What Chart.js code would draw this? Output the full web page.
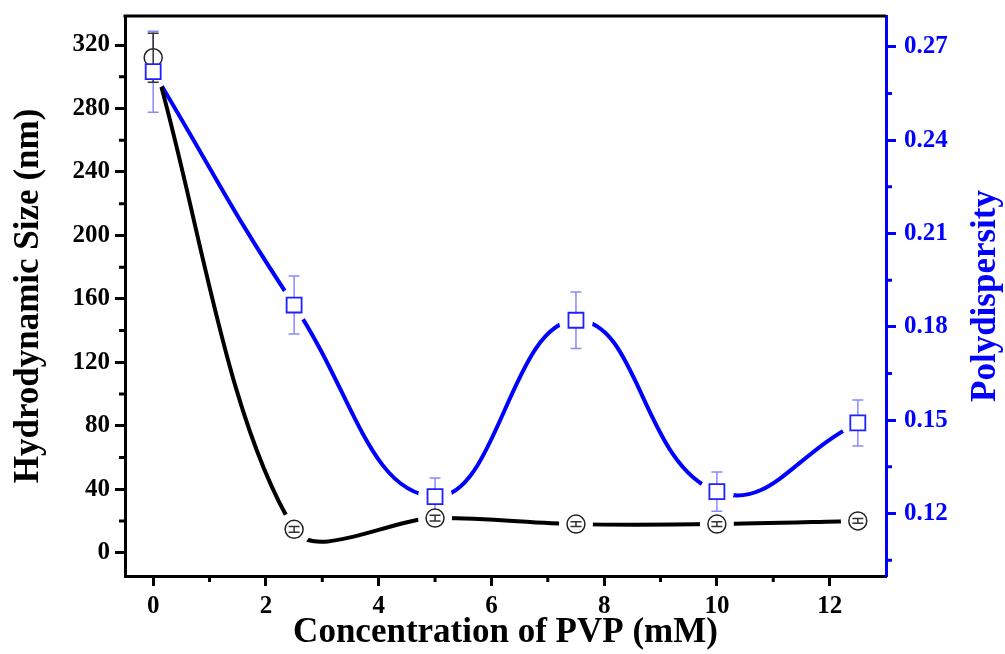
<!DOCTYPE html>
<html>
<head>
<meta charset="utf-8">
<title>Hydrodynamic size and polydispersity vs PVP concentration</title>
<script src="https://cdn.jsdelivr.net/npm/chart.js@4.4.1/dist/chart.umd.min.js"></script>
<style>
  html, body { margin: 0; padding: 0; background: #fff; }
</style>
</head>
<body>
<canvas id="pvpChart" width="1005" height="654"></canvas>
<script>
// PVP concentration (mM)
const concentration = [0, 2.5, 5, 7.5, 10, 12.5];
// hydrodynamic size (nm) and its error
const hydroSize = [312, 14.7, 21.8, 18, 18, 20];
const hydroSizeErr = [15.4, 1.8, 1.8, 1.5, 1.5, 1.5];
// polydispersity index and its error
const polydispersity = [0.262, 0.187, 0.1254, 0.1821, 0.127, 0.1491];
const polydispersityErr = [0.013, 0.0093, 0.006, 0.0091, 0.0063, 0.0074];

// tick positions
const xMajor = [0, 2, 4, 6, 8, 10, 12];
const xMinor = [1, 3, 5, 7, 9, 11];
const sizeMajor = [0, 40, 80, 120, 160, 200, 240, 280, 320];
const sizeMinor = [20, 60, 100, 140, 180, 220, 260, 300];
const pdiMajor = [0.12, 0.15, 0.18, 0.21, 0.24, 0.27];
const pdiMinor = [0.105, 0.135, 0.165, 0.195, 0.225, 0.255];

const BLUE = '#0000ff';
const FONT = 'Liberation Serif';

Chart.defaults.font.family = FONT;
Chart.defaults.font.weight = 'bold';

const isIn = (list, v) => list.some(m => Math.abs(m - v) < 1e-9);

const setTicks = (major, minor) => (scale) => {
  scale.ticks = major.concat(minor).sort((a, b) => a - b).map(v => ({value: v}));
};

// fixed box sizes so the plot frame sits where we want it
const fixBox = (w, h) => (s) => {
  if (w != null) s.width = w;
  if (h != null) s.height = h;
  s.paddingTop = 0; s.paddingBottom = 0;
  s.paddingLeft = 0; s.paddingRight = 0;
};

// open markers with a gap cut into the lines, plus error bars
const markersAndErrors = {
  id: 'markersAndErrors',
  afterDatasetsDraw(chart) {
    const {ctx, chartArea} = chart;
    const metas = chart.data.datasets.map((d, i) => chart.getDatasetMeta(i));

    ctx.save();
    ctx.fillStyle = '#fff';
    metas.forEach(meta => meta.data.forEach(pt => {
      ctx.beginPath();
      ctx.arc(pt.x, pt.y, 17, 0, Math.PI * 2);
      ctx.fill();
    }));
    ctx.restore();

    const drawErrors = (i) => {
      const ds = chart.data.datasets[i];
      const scale = chart.scales[ds.yAxisID];
      const meta = metas[i];
      ctx.save();
      ctx.strokeStyle = ds.errColor;
      ctx.lineWidth = 1.5;
      meta.data.forEach((pt, j) => {
        const hi = scale.getPixelForValue(ds.data[j] + ds.errors[j]);
        const lo = scale.getPixelForValue(ds.data[j] - ds.errors[j]);
        const w = 5.5;
        ctx.beginPath();
        ctx.moveTo(pt.x, hi); ctx.lineTo(pt.x, lo);
        ctx.moveTo(pt.x - w, hi); ctx.lineTo(pt.x + w, hi);
        ctx.moveTo(pt.x - w, lo); ctx.lineTo(pt.x + w, lo);
        ctx.stroke();
      });
      ctx.restore();
    };
    const drawMarkers = (i) => {
      metas[i].data.forEach(pt => pt.draw(ctx, chartArea));
    };

    drawErrors(1);
    drawMarkers(0);
    drawErrors(0);
    drawMarkers(1);
  }
};

// frame top line, short minor ticks and the right-hand title
const frameExtras = {
  id: 'frameExtras',
  afterDraw(chart) {
    const {ctx, chartArea: a, scales} = chart;
    ctx.save();
    ctx.lineWidth = 3;
    ctx.strokeStyle = '#000';
    ctx.beginPath();
    ctx.moveTo(a.left - 1.5, a.top);
    ctx.lineTo(a.right, a.top);
    ctx.stroke();

    const minorLen = 6;
    ctx.beginPath();
    xMinor.forEach(v => {
      const px = scales.x.getPixelForValue(v);
      ctx.moveTo(px, a.bottom); ctx.lineTo(px, a.bottom + minorLen);
    });
    sizeMinor.forEach(v => {
      const py = scales.y.getPixelForValue(v);
      ctx.moveTo(a.left, py); ctx.lineTo(a.left - minorLen, py);
    });
    ctx.stroke();

    ctx.strokeStyle = BLUE;
    ctx.beginPath();
    pdiMinor.forEach(v => {
      const py = scales.y1.getPixelForValue(v);
      ctx.moveTo(a.right, py); ctx.lineTo(a.right + minorLen, py);
    });
    ctx.stroke();

    ctx.translate(986, (a.top + a.bottom) / 2);
    ctx.rotate(-Math.PI / 2);
    ctx.fillStyle = BLUE;
    ctx.font = 'bold 35px "' + FONT + '"';
    ctx.textAlign = 'center';
    ctx.textBaseline = 'middle';
    ctx.fillText('Polydispersity', 0, 0);
    ctx.restore();
  }
};

new Chart(document.getElementById('pvpChart'), {
  type: 'line',
  data: {
    labels: concentration,
    datasets: [
      {
        label: 'Hydrodynamic Size',
        data: hydroSize,
        errors: hydroSizeErr,
        errColor: '#333',
        yAxisID: 'y',
        borderColor: '#000',
        borderWidth: 4,
        tension: 0.32,
        pointStyle: 'circle',
        pointRadius: 9,
        pointBorderWidth: 1.5,
        pointBorderColor: '#222',
        pointBackgroundColor: '#fff'
      },
      {
        label: 'Polydispersity',
        data: polydispersity,
        errors: polydispersityErr,
        errColor: 'rgba(40,40,255,0.55)',
        yAxisID: 'y1',
        borderColor: BLUE,
        borderWidth: 4,
        tension: 0.45,
        pointStyle: 'rect',
        pointRadius: 10.6,
        pointBorderWidth: 1.8,
        pointBorderColor: '#2020ff',
        pointBackgroundColor: '#fff'
      }
    ]
  },
  options: {
    responsive: false,
    animation: false,
    layout: {padding: {top: 16, left: 0, right: 0, bottom: 0}},
    plugins: {legend: {display: false}, tooltip: {enabled: false}},
    scales: {
      x: {
        type: 'linear',
        min: -0.5,
        max: 13,
        afterBuildTicks: setTicks(xMajor, xMinor),
        afterFit: fixBox(null, 78),
        border: {color: '#000', width: 3},
        grid: {
          drawOnChartArea: false,
          tickLength: 10,
          tickWidth: 3,
          tickColor: (c) => isIn(xMajor, c.tick.value) ? '#000' : 'rgba(0,0,0,0)'
        },
        ticks: {
          autoSkip: false,
          maxRotation: 0,
          padding: 6,
          color: '#000',
          font: {size: 25, weight: 'bold'},
          callback: (v) => isIn(xMajor, v) ? String(v) : ''
        },
        title: {
          display: true,
          text: 'Concentration of PVP (mM)',
          color: '#000',
          padding: {top: 0, bottom: 0},
          font: {size: 35, weight: 'bold'}
        }
      },
      y: {
        position: 'left',
        min: -14.7,
        max: 338.3,
        afterBuildTicks: setTicks(sizeMajor, sizeMinor),
        afterFit: fixBox(125, null),
        border: {color: '#000', width: 3},
        grid: {
          drawOnChartArea: false,
          tickLength: 10,
          tickWidth: 3,
          tickColor: (c) => isIn(sizeMajor, c.tick.value) ? '#000' : 'rgba(0,0,0,0)'
        },
        ticks: {
          autoSkip: false,
          padding: 5,
          color: '#000',
          font: {size: 25, weight: 'bold'},
          callback: (v) => isIn(sizeMajor, v) ? String(v) : ''
        },
        title: {
          display: true,
          text: 'Hydrodynamic Size (nm)',
          color: '#000',
          padding: {top: 8, bottom: 0},
          font: {size: 35, weight: 'bold'}
        }
      },
      y1: {
        position: 'right',
        min: 0.0999,
        max: 0.2799,
        afterBuildTicks: setTicks(pdiMajor, pdiMinor),
        afterFit: fixBox(119, null),
        border: {color: BLUE, width: 3},
        grid: {
          drawOnChartArea: false,
          tickLength: 10,
          tickWidth: 3,
          tickColor: (c) => isIn(pdiMajor, c.tick.value) ? BLUE : 'rgba(0,0,0,0)'
        },
        ticks: {
          autoSkip: false,
          padding: 8,
          color: BLUE,
          font: {size: 25, weight: 'bold'},
          callback: (v) => isIn(pdiMajor, v) ? v.toFixed(2) : ''
        }
      }
    }
  },
  plugins: [markersAndErrors, frameExtras]
});
</script>
</body>
</html>
